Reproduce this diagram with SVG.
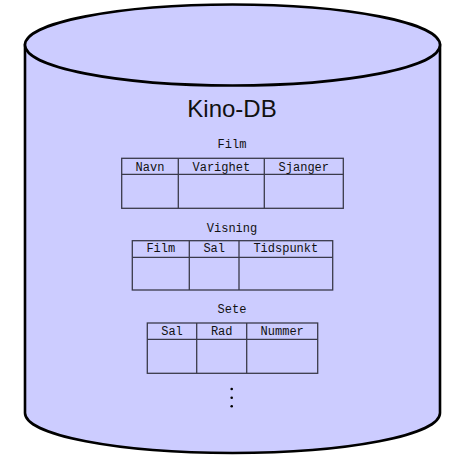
<svg xmlns="http://www.w3.org/2000/svg" width="450" height="455" viewBox="0 0 450 455">
  <style>
    .db { fill: #ccccff; stroke: #000; stroke-width: 2.6; }
    .title { font-family: "Liberation Sans", Arial, sans-serif; font-size: 24px; fill: #111; text-anchor: middle; }
    .tt { font-family: "Liberation Mono", "Courier New", monospace; font-size: 12px; fill: #111; text-anchor: middle; }
    .grid { fill: none; stroke: #3a3a4a; stroke-width: 1.3; }
    .dot { fill: #000; }
  </style>

  <!-- database cylinder -->
  <g id="kino-db">
    <path class="db" d="M25,45 L25,413 A207.5,40 0 0 0 440,413 L440,45 Z"/>
    <ellipse class="db" cx="232.5" cy="45" rx="207.5" ry="40.5"/>
    <text class="title" x="232" y="117">Kino-DB</text>
  </g>

  <!-- table: Film -->
  <g id="film">
    <text class="tt" x="232" y="148">Film</text>
    <rect class="grid" x="121.7" y="158.3" width="221.6" height="50"/>
    <line class="grid" x1="121.7" y1="174.3" x2="343.3" y2="174.3"/>
    <line class="grid" x1="178.3" y1="158.3" x2="178.3" y2="208.3"/>
    <line class="grid" x1="264.3" y1="158.3" x2="264.3" y2="208.3"/>
    <text class="tt" x="150" y="170.5">Navn</text>
    <text class="tt" x="221.3" y="170.5">Varighet</text>
    <text class="tt" x="303.8" y="170.5">Sjanger</text>
  </g>

  <!-- table: Visning -->
  <g id="visning">
    <text class="tt" x="232" y="231.5">Visning</text>
    <rect class="grid" x="132.3" y="240.7" width="200.4" height="49.3"/>
    <line class="grid" x1="132.3" y1="257.3" x2="332.7" y2="257.3"/>
    <line class="grid" x1="189.3" y1="240.7" x2="189.3" y2="290"/>
    <line class="grid" x1="239" y1="240.7" x2="239" y2="290"/>
    <text class="tt" x="160.8" y="252">Film</text>
    <text class="tt" x="214.2" y="252">Sal</text>
    <text class="tt" x="285.8" y="252">Tidspunkt</text>
  </g>

  <!-- table: Sete -->
  <g id="sete">
    <text class="tt" x="232" y="313">Sete</text>
    <rect class="grid" x="147.3" y="323" width="170.4" height="50.3"/>
    <line class="grid" x1="147.3" y1="339.3" x2="317.7" y2="339.3"/>
    <line class="grid" x1="196.7" y1="323" x2="196.7" y2="373.3"/>
    <line class="grid" x1="246.7" y1="323" x2="246.7" y2="373.3"/>
    <text class="tt" x="172" y="334.5">Sal</text>
    <text class="tt" x="221.7" y="334.5">Rad</text>
    <text class="tt" x="282.2" y="334.5">Nummer</text>
  </g>

  <!-- more tables follow -->
  <g id="more">
    <circle class="dot" cx="231.7" cy="389" r="1.3"/>
    <circle class="dot" cx="231.7" cy="397.7" r="1.3"/>
    <circle class="dot" cx="231.7" cy="406.3" r="1.3"/>
  </g>
</svg>
